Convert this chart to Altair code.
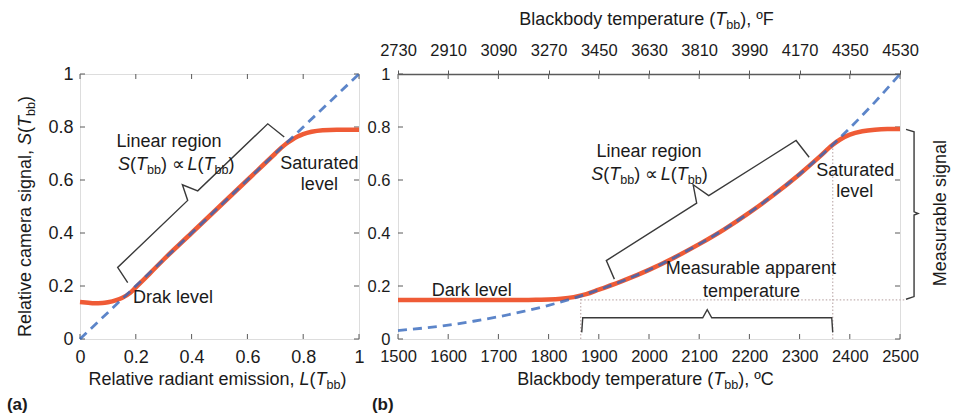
import altair as alt
import pandas as pd

FONT = "Liberation Sans"
INK = "#1b1b1b"
BLUE = "#3366bb"
ORANGE = "#ef5b36"
FRAME = "#808080"
TICK = "#5a5a5a"
BRACE = "#3a3a3a"
DOT = "#c2b0b0"

WA, HA = 279, 265
WB, HB = 502, 265
SIZE_A = 18
SIZE_B = 18
TICK_B = 16.5

# ---------------- panel (a) ----------------
a_ticks = [0, 0.2, 0.4, 0.6, 0.8, 1]
a_tick_labels = ["0", "0.2", "0.4", "0.6", "0.8", "1"]
a_ideal_L = [0.0, 1.0]
a_ideal_S = [0.0, 1.0]
a_sig_L = [0.00, 0.03, 0.05, 0.08, 0.10, 0.13, 0.15, 0.18, 0.20, 0.25, 0.30, 0.40,
           0.50, 0.60, 0.70, 0.72, 0.74, 0.76, 0.78, 0.80, 0.83, 0.87, 0.92, 1.00]
a_sig_S = [0.140, 0.137, 0.135, 0.136, 0.139, 0.147, 0.155, 0.174, 0.195, 0.247, 0.300, 0.400,
           0.500, 0.600, 0.700, 0.720, 0.738, 0.752, 0.764, 0.773, 0.782, 0.788, 0.790, 0.790]
a_brace_L = [0.171, 0.135, 0.386, 0.367, 0.422, 0.673, 0.732]
a_brace_S = [0.213, 0.270, 0.523, 0.582, 0.559, 0.812, 0.762]

# ---------------- panel (b) ----------------
b_ticks_C = [1500, 1600, 1700, 1800, 1900, 2000, 2100, 2200, 2300, 2400, 2500]
b_labels_C = ["1500", "1600", "1700", "1800", "1900", "2000", "2100", "2200", "2300", "2400", "2500"]
b_labels_F = ["2730", "2910", "3090", "3270", "3450", "3630", "3810", "3990", "4170", "4350", "4530"]
b_ticks_S = [0, 0.2, 0.4, 0.6, 0.8, 1]
b_labels_S = ["0", "0.2", "0.4", "0.6", "0.8", "1"]
b_ideal_T = [1500, 1550, 1600, 1650, 1700, 1750, 1800, 1850, 1900, 1950, 2000,
             2050, 2100, 2150, 2200, 2250, 2300, 2350, 2400, 2450, 2500]
b_ideal_S = [0.032, 0.041, 0.052, 0.067, 0.084, 0.104, 0.127, 0.154, 0.186, 0.221, 0.261,
             0.307, 0.358, 0.414, 0.477, 0.546, 0.622, 0.705, 0.796, 0.894, 1.000]
b_sig_T = [1500, 1600, 1700, 1750, 1780, 1800, 1825, 1850, 1875, 1900, 1950, 2000, 2050,
           2100, 2150, 2200, 2250, 2300, 2340, 2366, 2380, 2400, 2425, 2450, 2475, 2500]
b_sig_S = [0.147, 0.147, 0.147, 0.147, 0.148, 0.149, 0.152, 0.158, 0.169, 0.186, 0.221, 0.261, 0.307,
           0.358, 0.414, 0.477, 0.546, 0.622, 0.688, 0.733, 0.752, 0.771, 0.784, 0.790, 0.792, 0.792]
b_brace_T = [1931, 1915, 2095, 2088, 2119, 2293, 2319]
b_brace_S = [0.226, 0.296, 0.513, 0.582, 0.541, 0.749, 0.686]
b_range_T = [1866, 1868, 2107, 2116, 2125, 2364, 2366]
b_range_S = [0.025, 0.080, 0.080, 0.111, 0.080, 0.080, 0.025]
b_signal_T = [2512, 2528, 2528, 2536, 2528, 2528, 2512]
b_signal_S = [0.791, 0.782, 0.480, 0.474, 0.468, 0.160, 0.150]
b_dot1_T, b_dot1_S = [1864, 1864], [0.0, 0.160]
b_dot2_T, b_dot2_S = [2366, 2366], [0.0, 0.733]
b_dot3_T, b_dot3_S = [1864, 2512], [0.148, 0.148]

# Arial / Liberation Sans advance widths (1/1000 em) for composing rich text
AW = {' ': 278, '(': 333, ')': 333, ',': 278, '.': 278, '\u221d': 584, '\u00ba': 365,
      'a': 556, 'b': 556, 'c': 500, 'd': 556, 'e': 556, 'f': 278, 'g': 556, 'h': 556,
      'i': 222, 'k': 500, 'l': 222, 'm': 833, 'n': 556, 'o': 556, 'p': 556, 'r': 333,
      's': 500, 't': 278, 'u': 556, 'v': 500, 'y': 500,
      'B': 667, 'C': 722, 'F': 611, 'L': 556, 'R': 722, 'S': 667, 'T': 611}
SUB = 0.7


def seg_width(t, size):
    return sum(AW.get(ch, 556) for ch in t) * size / 1000.0


def compose(segments, cx, cy, size, px_per_unit, angle=0):
    widths = [seg_width(t, size * SUB if k == 's' else size) for t, k in segments]
    pos = -sum(widths) / 2.0
    rows = []
    for (t, k), w in zip(segments, widths):
        lead = len(t) - len(t.lstrip())
        off = (pos + seg_width(t[:lead], size)) / px_per_unit
        if angle == 0:
            rows.append(dict(x=cx + off, y=cy, text=t.strip(), kind=k, angle=angle))
        else:
            rows.append(dict(x=cx, y=cy + off, text=t.strip(), kind=k, angle=angle))
        pos += w
    return rows


PROP_SEGS = [("S", 'i'), ("(", 'n'), ("T", 'i'), ("bb", 's'), (") \u221d", 'n'),
             (" L", 'i'), ("(", 'n'), ("T", 'i'), ("bb", 's'), (")", 'n')]

# ---- text for (a)
rows_a = []
rows_a += compose([("Relative radiant emission, ", 'n'), ("L", 'i'), ("(", 'n'), ("T", 'i'),
                   ("bb", 's'), (")", 'n')], 0.493, -0.155, SIZE_A, WA)
rows_a += compose([("Relative camera signal, ", 'n'), ("S", 'i'), ("(", 'n'), ("T", 'i'),
                   ("bb", 's'), (")", 'n')], -0.194, 0.462, SIZE_A, HA, angle=270)
rows_a += compose(PROP_SEGS, 0.345, 0.657, SIZE_A, WA)
rows_a += [
    dict(x=0.319, y=0.745, text="Linear region", kind='c', angle=0),
    dict(x=0.858, y=0.660, text="Saturated", kind='c', angle=0),
    dict(x=0.858, y=0.581, text="level", kind='c', angle=0),
    dict(x=0.333, y=0.154, text="Drak level", kind='c', angle=0),
    dict(x=-0.262, y=-0.250, text="(a)", kind='b', angle=0),
]

# ---- text for (b)
rows_b = []
rows_b += compose([("Blackbody temperature (", 'n'), ("T", 'i'), ("bb", 's'), ("), \u00baC", 'n')],
                  1993, -0.155, SIZE_B, WB / 1000.0)
rows_b += compose([("Blackbody temperature (", 'n'), ("T", 'i'), ("bb", 's'), ("), \u00baF", 'n')],
                  1995, 1.204, SIZE_B, WB / 1000.0)
rows_b += compose(PROP_SEGS, 2001, 0.618, SIZE_B, WB / 1000.0)
rows_b += [
    dict(x=2000, y=0.706, text="Linear region", kind='c', angle=0),
    dict(x=2411, y=0.635, text="Saturated", kind='c', angle=0),
    dict(x=2410, y=0.553, text="level", kind='c', angle=0),
    dict(x=1647, y=0.181, text="Dark level", kind='c', angle=0),
    dict(x=2203, y=0.263, text="Measurable apparent", kind='c', angle=0),
    dict(x=2204, y=0.178, text="temperature", kind='c', angle=0),
    dict(x=2582, y=0.475, text="Measurable signal", kind='c', angle=270),
    dict(x=1448, y=-0.250, text="(b)", kind='b', angle=0),
]


def text_layers(rows, xs, ys, size):
    df = pd.DataFrame(rows)
    specs = {
        'n': dict(align='left', fontSize=size),
        'i': dict(align='left', fontSize=size, fontStyle='italic'),
        's': dict(align='left', fontSize=round(size * SUB, 1), dy=round(0.29 * size, 1)),
        'c': dict(align='center', fontSize=size),
        'b': dict(align='left', fontSize=size - 1, fontWeight='bold'),
    }
    out = []
    for k, props in specs.items():
        sub = df[df['kind'] == k]
        if sub.empty:
            continue
        out.append(
            alt.Chart(sub).mark_text(font=FONT, color=INK, baseline='middle', **props).encode(
                x=alt.X('x:Q', scale=xs, axis=None),
                y=alt.Y('y:Q', scale=ys, axis=None),
                text='text:N',
                angle=alt.Angle('angle:Q', scale=None),
            )
        )
    return out


def ldf(xv, yv):
    return pd.DataFrame({'x': xv, 'y': yv, 'i': list(range(len(xv)))})


def line(df, xs, ys, **mark):
    return alt.Chart(df).mark_line(**mark).encode(
        x=alt.X('x:Q', scale=xs, axis=None),
        y=alt.Y('y:Q', scale=ys, axis=None),
        order='i:Q',
    )


def lookup_expr(values, labels):
    return ("[" + ",".join("'%s'" % s for s in labels) + "][indexof(["
            + ",".join(str(v) for v in values) + "], datum.value)]")


def axis(values, labels, size, pad, **kw):
    base = dict(values=values, labelExpr=lookup_expr(values, labels), title=None, grid=False,
                ticks=False, domain=False, labelFontSize=size, labelPadding=pad,
                labelFlush=False, labelOverlap=False, labelColor=INK, labelFont=FONT)
    base.update(kw)
    return alt.Axis(**base)


def ticks(xvals, yvals, xs, ys, W, H, xaxis=None, yaxis=None, top_axis=None, n=5):
    dfx = pd.DataFrame({'x': xvals})
    dfy = pd.DataFrame({'y': yvals})
    m = dict(color=TICK, strokeWidth=1)
    return [
        alt.Chart(dfx).mark_rule(**m).encode(x=alt.X('x:Q', scale=xs, axis=xaxis),
                                             y=alt.value(H), y2=alt.value(H - n)),
        alt.Chart(dfy).mark_rule(**m).encode(y=alt.Y('y:Q', scale=ys, axis=yaxis),
                                             x=alt.value(0), x2=alt.value(n)),
        alt.Chart(dfx).mark_rule(**m).encode(x=alt.X('x:Q', scale=xs, axis=top_axis),
                                             y=alt.value(0), y2=alt.value(n)),
        alt.Chart(dfy).mark_rule(**m).encode(y=alt.Y('y:Q', scale=ys, axis=None),
                                             x=alt.value(W), x2=alt.value(W - n)),
    ]


# ---------------- build (a) ----------------
xa = alt.Scale(domain=[0, 1], nice=False, zero=False)
ya = alt.Scale(domain=[0, 1], nice=False, zero=False)

a_layers = ticks(a_ticks, a_ticks, xa, ya, WA, HA,
                 xaxis=axis(a_ticks, a_tick_labels, SIZE_A, 9, orient='bottom'),
                 yaxis=axis(a_ticks, a_tick_labels, SIZE_A, 7, orient='left'))
a_layers.append(line(ldf(a_brace_L, a_brace_S), xa, ya, color=BRACE, strokeWidth=1.4))
a_layers.append(line(ldf(a_sig_L, a_sig_S), xa, ya, color=ORANGE, strokeWidth=4.5,
                     interpolate='monotone'))
a_layers.append(line(ldf(a_ideal_L, a_ideal_S), xa, ya,
                     color=BLUE, strokeWidth=2.8, strokeDash=[9, 6], opacity=0.8))
a_layers += text_layers(rows_a, xa, ya, SIZE_A)
chart_a = (alt.layer(*a_layers).properties(width=WA, height=HA)
           .resolve_axis(x='independent', y='independent'))

# ---------------- build (b) ----------------
xb = alt.Scale(domain=[1500, 2500], nice=False, zero=False)
yb = alt.Scale(domain=[0, 1], nice=False, zero=False)

top_axis = axis(b_ticks_C, b_labels_F, TICK_B, 12, orient='top', ticks=True, tickSize=4,
                tickColor=TICK, domain=True, domainColor='#5a5a5a', domainWidth=1.5)
b_layers = ticks(b_ticks_C, b_ticks_S, xb, yb, WB, HB,
                 xaxis=axis(b_ticks_C, b_labels_C, TICK_B, 9, orient='bottom'),
                 yaxis=axis(b_ticks_S, b_labels_S, TICK_B, 8, orient='left'),
                 top_axis=top_axis)
for tx, sy in [(b_dot1_T, b_dot1_S), (b_dot2_T, b_dot2_S), (b_dot3_T, b_dot3_S)]:
    b_layers.append(line(ldf(tx, sy), xb, yb, color=DOT, strokeWidth=1.2, strokeDash=[1.5, 2]))
for tx, sy in [(b_brace_T, b_brace_S), (b_range_T, b_range_S), (b_signal_T, b_signal_S)]:
    b_layers.append(line(ldf(tx, sy), xb, yb, color=BRACE, strokeWidth=1.4))
b_layers.append(line(ldf(b_sig_T, b_sig_S), xb, yb, color=ORANGE, strokeWidth=4.5,
                     interpolate='monotone'))
b_layers.append(line(ldf(b_ideal_T, b_ideal_S), xb, yb,
                     color=BLUE, strokeWidth=2.8, strokeDash=[9, 6], opacity=0.8,
                     interpolate='monotone'))
b_layers += text_layers(rows_b, xb, yb, SIZE_B)
chart_b = (alt.layer(*b_layers).properties(width=WB, height=HB)
           .resolve_axis(x='independent', y='independent'))

chart = (
    alt.hconcat(chart_a, chart_b, spacing=39, bounds='flush')
    .properties(padding={"left": 6, "top": 10, "right": 4, "bottom": 2})
    .configure_view(stroke=FRAME, strokeWidth=1.5)
    .configure(font=FONT, background='white')
)

chart.save("out.html", embed_options={"renderer": "svg", "actions": False})
